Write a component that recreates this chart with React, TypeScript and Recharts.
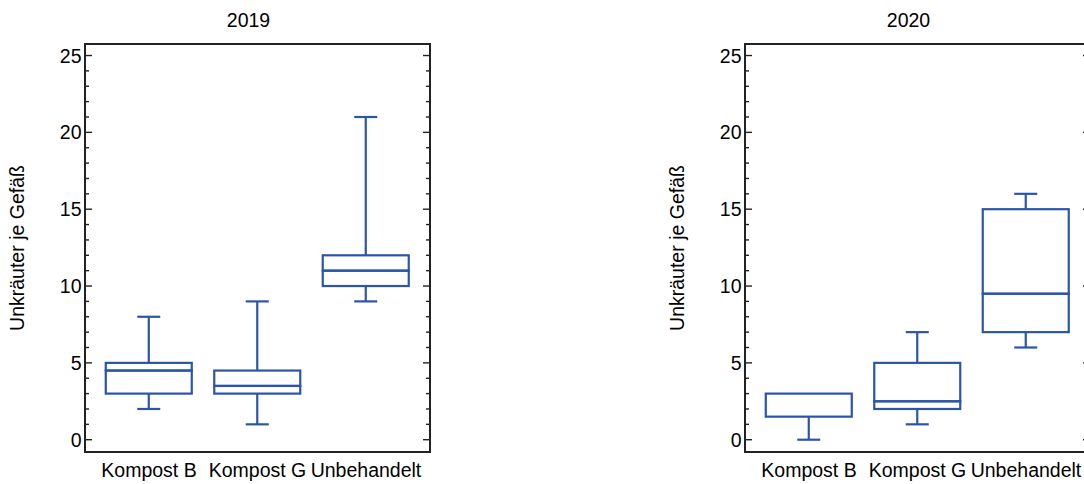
import React from 'react';
import { ComposedChart, Bar, XAxis, YAxis, ReferenceArea } from 'recharts';

// ---- data ----
const categories = ['Kompost B', 'Kompost G', 'Unbehandelt'];
const positions = [1, 2, 3];
const yTicks = [0, 1, 2, 3, 4, 5, 6, 7, 8, 9, 10, 11, 12, 13, 14, 15, 16, 17, 18, 19, 20, 21, 22, 23, 24, 25];
const yearTitles = ['2019', '2020'];
const yLabel = 'Unkräuter je Gefäß';

const min2019 = [2, 1, 9];
const q1_2019 = [3, 3, 10];
const median2019 = [4.5, 3.5, 11];
const q3_2019 = [5, 4.5, 12];
const max2019 = [8, 9, 21];

const min2020 = [0, 1, 6];
const q1_2020 = [1.5, 2, 7];
const median2020 = [3, 2.5, 9.5];
const q3_2020 = [3, 5, 15];
const max2020 = [3, 7, 16];

// ---- styles ----
const BLUE = '#2A55A8';
const FRAME = '#222';
const FONT = '"Liberation Sans", Arial, Helvetica, sans-serif';
const FS = 19.5;
const CAP = 11.5;
const SW = 2.2;

function buildRows(mins: number[], q1s: number[], meds: number[], q3s: number[], maxs: number[]) {
  return positions.map((p, i) => ({
    pos: p,
    name: categories[i],
    base: mins[i],
    lw: q1s[i] - mins[i],
    lb: meds[i] - q1s[i],
    ub: q3s[i] - meds[i],
    uw: maxs[i] - q3s[i],
  }));
}

const rows2019 = buildRows(min2019, q1_2019, median2019, q3_2019, max2019);
const rows2020 = buildRows(min2020, q1_2020, median2020, q3_2020, max2020);

const Empty = () => <g />;

const LowerWhisker = (props: any) => {
  const { x, y, width, height } = props;
  const cx = x + width / 2;
  const yb = y + height;
  return (
    <g>
      <line x1={cx} x2={cx} y1={y} y2={yb} stroke={BLUE} strokeWidth={SW} />
      <line x1={cx - CAP} x2={cx + CAP} y1={yb} y2={yb} stroke={BLUE} strokeWidth={SW} />
    </g>
  );
};

const UpperWhisker = (props: any) => {
  const { x, y, width, height } = props;
  const cx = x + width / 2;
  if (!height || height <= 0) return <g />;
  return (
    <g>
      <line x1={cx} x2={cx} y1={y} y2={y + height} stroke={BLUE} strokeWidth={SW} />
      <line x1={cx - CAP} x2={cx + CAP} y1={y} y2={y} stroke={BLUE} strokeWidth={SW} />
    </g>
  );
};

const BoxPart = (props: any) => {
  const { x, y, width, height } = props;
  return <rect x={x} y={y} width={width} height={Math.max(0, height)} fill="none" stroke={BLUE} strokeWidth={SW} />;
};

const LeftTick = (props: any) => {
  const { x, y, payload } = props;
  const major = payload.value % 5 === 0;
  return (
    <g>
      <line x1={x} x2={x + (major ? 7 : 4)} y1={y} y2={y} stroke={FRAME} strokeWidth={1.4} />
      {major && (
        <text x={x - 3.5} y={y} dy="0.36em" textAnchor="end" fontSize={FS} fontFamily={FONT} fill="#000">
          {payload.value}
        </text>
      )}
    </g>
  );
};

const RightTick = (props: any) => {
  const { x, y, payload } = props;
  const major = payload.value % 5 === 0;
  return <line x1={x} x2={x - (major ? 7 : 4)} y1={y} y2={y} stroke={FRAME} strokeWidth={1.4} />;
};

const X_DOMAIN: [number, number] = [0.41, 3.59];
const Y_DOMAIN: [number, number] = [-0.8, 25.75];

function Panel({ left, title, rows }: { left: number; title: string; rows: any[] }) {
  return (
    <div style={{ position: 'absolute', left, top: 0, width: 440, height: 484 }}>
      <div
        style={{
          position: 'absolute',
          left: 248.5 - 60,
          top: 11,
          width: 120,
          textAlign: 'center',
          fontFamily: FONT,
          fontSize: FS,
          lineHeight: `${FS}px`,
          color: '#000',
        }}
      >
        {title}
      </div>
      <ComposedChart width={440} height={484} data={rows} margin={{ top: 44, right: 9, bottom: 0, left: 0 }}>
        <XAxis
          type="number"
          dataKey="pos"
          domain={X_DOMAIN}
          allowDataOverflow
          ticks={positions}
          interval={0}
          tickFormatter={(v: number) => categories[v - 1]}
          axisLine={false}
          tickLine={false}
          tickSize={0}
          tickMargin={11}
          height={32}
          tick={{ fontSize: FS, fill: '#000', fontFamily: FONT }}
        />
        <YAxis
          type="number"
          domain={Y_DOMAIN}
          allowDataOverflow
          ticks={yTicks}
          interval={0}
          width={85}
          axisLine={false}
          tickLine={false}
          tickSize={0}
          tickMargin={0}
          tick={LeftTick}
          label={{
            value: yLabel,
            angle: -90,
            position: 'insideLeft',
            offset: 17,
            fontSize: FS,
            fill: '#000',
            fontFamily: FONT,
            style: { textAnchor: 'middle', fontFamily: FONT, fontSize: FS, fill: '#000' },
          }}
        />
        <YAxis
          yAxisId="r"
          orientation="right"
          type="number"
          domain={Y_DOMAIN}
          allowDataOverflow
          ticks={yTicks}
          interval={0}
          width={1}
          axisLine={false}
          tickLine={false}
          tickSize={0}
          tickMargin={0}
          tick={RightTick}
        />
        <ReferenceArea
          x1={X_DOMAIN[0]}
          x2={X_DOMAIN[1]}
          y1={Y_DOMAIN[0]}
          y2={Y_DOMAIN[1]}
          fill="none"
          fillOpacity={0}
          stroke={FRAME}
          strokeWidth={2}
          ifOverflow="visible"
        />
        <Bar dataKey="base" stackId="a" barSize={86} shape={Empty} isAnimationActive={false} />
        <Bar dataKey="lw" stackId="a" barSize={86} shape={LowerWhisker} isAnimationActive={false} />
        <Bar dataKey="lb" stackId="a" barSize={86} shape={BoxPart} isAnimationActive={false} />
        <Bar dataKey="ub" stackId="a" barSize={86} shape={BoxPart} isAnimationActive={false} />
        <Bar dataKey="uw" stackId="a" barSize={86} shape={UpperWhisker} isAnimationActive={false} />
      </ComposedChart>
    </div>
  );
}

export default function App() {
  return (
    <div style={{ position: 'absolute', left: 0, top: 0, width: 1084, height: 484, overflow: 'hidden', background: '#fff' }}>
      <Panel left={0} title={yearTitles[0]} rows={rows2019} />
      <Panel left={660} title={yearTitles[1]} rows={rows2020} />
    </div>
  );
}
